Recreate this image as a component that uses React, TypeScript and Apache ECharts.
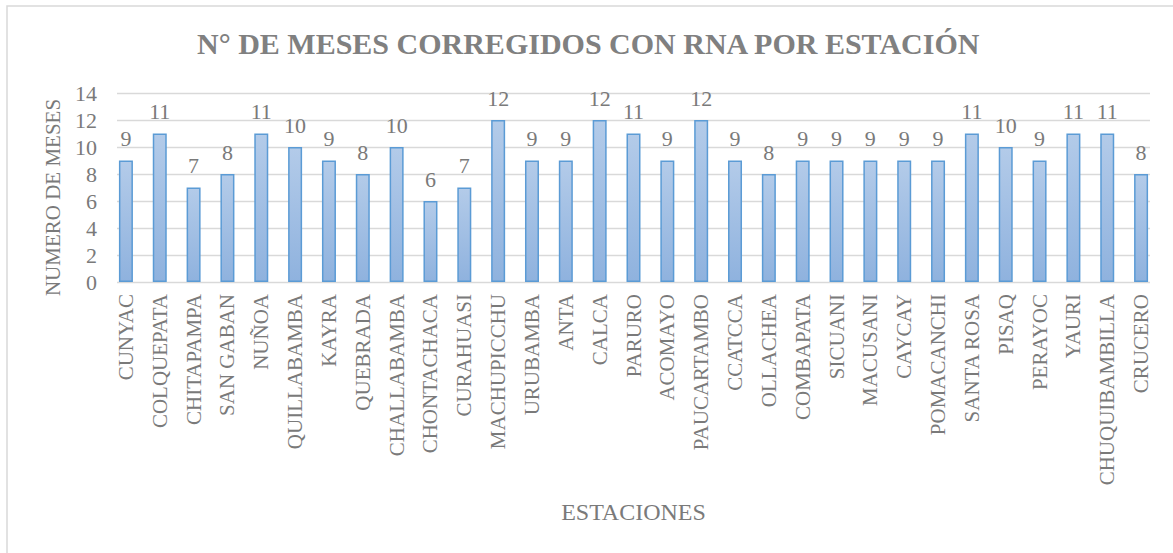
import React, { useEffect, useRef } from "react";
import * as echarts from "echarts";

const categories = [
  "CUNYAC", "COLQUEPATA", "CHITAPAMPA", "SAN GABAN", "NUÑOA", "QUILLABAMBA",
  "KAYRA", "QUEBRADA", "CHALLABAMBA", "CHONTACHACA", "CURAHUASI", "MACHUPICCHU",
  "URUBAMBA", "ANTA", "CALCA", "PARURO", "ACOMAYO", "PAUCARTAMBO", "CCATCCA",
  "OLLACHEA", "COMBAPATA", "SICUANI", "MACUSANI", "CAYCAY", "POMACANCHI",
  "SANTA ROSA", "PISAQ", "PERAYOC", "YAURI", "CHUQUIBAMBILLA", "CRUCERO",
];
const meses = [
  9, 11, 7, 8, 11, 10, 9, 8, 10, 6, 7, 12, 9, 9, 12, 11, 9, 12, 9, 8, 9, 9, 9, 9,
  9, 11, 10, 9, 11, 11, 8,
];
const title = "N° DE MESES CORREGIDOS CON RNA POR ESTACIÓN";
const yName = "NUMERO DE MESES";
const xName = "ESTACIONES";

const FONT = '"Liberation Serif", "Times New Roman", serif';
const GRAY = "#7a7a7a";

export default function App() {
  const ref = useRef<HTMLDivElement>(null);
  useEffect(() => {
    if (!ref.current) return;
    const chart = echarts.init(ref.current, null, { renderer: "svg" });
    chart.setOption({
      animation: false,
      backgroundColor: "#ffffff",
      textStyle: { fontFamily: FONT },
      title: {
        text: title,
        left: 197,
        top: 28,
        padding: 0,
        textStyle: { fontFamily: FONT, fontSize: 30, fontWeight: "bold", color: "#808080" },
      },
      graphic: [
        {
          type: "rect",
          shape: { x: 7, y: 6, width: 1190, height: 570 },
          style: { fill: "none", stroke: "#d9d9d9", lineWidth: 1.5 },
          silent: true,
        },
      ],
      grid: [
        { left: 117, right: 1173 - 1150, top: 93, bottom: 553 - 282 },
        { left: 109, right: 1173 - 1158, top: 93, bottom: 553 - 282 },
      ],
      xAxis: [
        { type: "category", gridIndex: 0, data: categories, show: false },
        {
          type: "category",
          gridIndex: 1,
          data: categories,
          axisLine: { show: false },
          axisTick: { show: false },
          axisLabel: {
            rotate: 90,
            interval: 0,
            margin: 12,
            fontFamily: FONT,
            fontSize: 21,
            color: GRAY,
          },
          name: xName,
          nameLocation: "middle",
          nameGap: 218,
          nameTextStyle: { fontFamily: FONT, fontSize: 24, color: GRAY },
        },
      ],
      yAxis: [
        {
          type: "value",
          gridIndex: 0,
          min: 0,
          max: 14,
          interval: 2,
          axisLine: { show: false },
          axisTick: { show: false },
          splitLine: { lineStyle: { color: "#d9d9d9", width: 1.3 } },
          axisLabel: { margin: 20, fontFamily: FONT, fontSize: 22, color: GRAY },
          name: yName,
          nameLocation: "middle",
          nameGap: 54,
          nameTextStyle: { fontFamily: FONT, fontSize: 21, color: GRAY, padding: [0, 20, 0, 0] },
        },
        { type: "value", gridIndex: 1, min: 0, max: 14, interval: 2, show: false },
      ],
      series: [
        {
          type: "bar",
          xAxisIndex: 1,
          yAxisIndex: 1,
          data: meses,
          barWidth: 14,
          itemStyle: {
            color: new echarts.graphic.LinearGradient(0, 0, 0, 1, [
              { offset: 0, color: "#b3cbe9" },
              { offset: 1, color: "#8fb2de" },
            ]),
            borderColor: "#5b9bd5",
            borderWidth: 1.5,
          },
          label: {
            show: true,
            position: "top",
            distance: 11,
            fontFamily: FONT,
            fontSize: 22,
            color: GRAY,
          },
        },
      ],
    });
    return () => chart.dispose();
  }, []);
  return (
    <div
      ref={ref}
      style={{ position: "absolute", left: 0, top: 0, width: 1173, height: 553 }}
    />
  );
}
